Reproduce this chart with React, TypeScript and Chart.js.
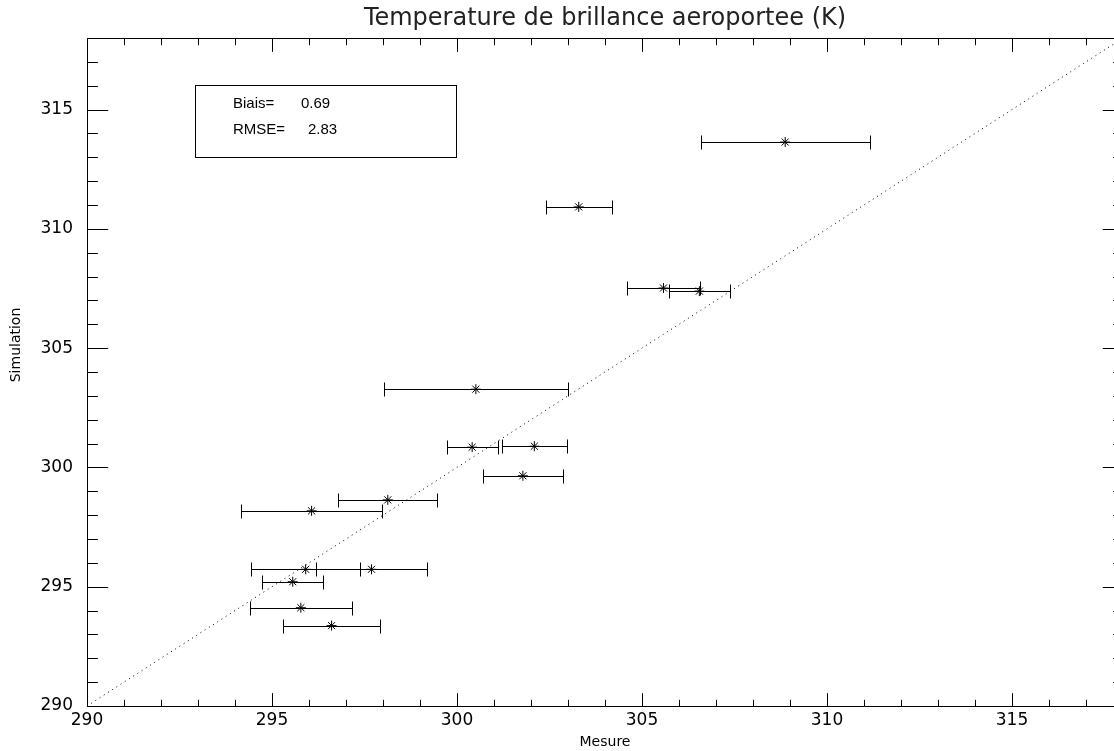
import React, { useEffect, useRef } from 'react';
import { Chart, registerables } from 'chart.js';

Chart.register(...registerables);

// ---- Data ----
const mesure = [308.87, 303.29, 305.58, 306.55, 300.51, 300.41, 302.09, 301.78, 298.13, 296.07, 295.91, 297.69, 295.56, 295.78, 296.61];
const simulation = [313.64, 310.92, 307.52, 307.39, 303.28, 300.85, 300.89, 299.65, 298.64, 298.18, 295.73, 295.73, 295.21, 294.12, 293.37];
const mesureErr = [2.28, 0.89, 0.99, 0.83, 2.49, 0.69, 0.88, 1.08, 1.34, 1.9, 1.48, 1.51, 0.83, 1.38, 1.3];
const diagonal = [290, 318];
const axisMin = 290;
const axisMax = 318;
const xTickLabels = [290, 295, 300, 305, 310, 315];
const yTickLabels = [290, 295, 300, 305, 310, 315];
const statLabels = ['Biais=', 'RMSE='];
const statValues = ['0.69', '2.83'];
const titleText = 'Temperature de brillance aeroportee (K)';
const xTitle = 'Mesure';
const yTitle = 'Simulation';

const W = 1210;
const H = 751;
const FAMILY = '"DejaVu Sans", sans-serif';
const TICK_FONT = { family: FAMILY, size: 17, weight: 'normal' as any };

const errorBarPlugin = {
  id: 'errorBars',
  beforeDatasetsDraw(chart: any) {
    const ctx = chart.ctx;
    const xs = chart.scales.x;
    const ys = chart.scales.y;
    ctx.save();
    ctx.strokeStyle = '#000';
    ctx.lineWidth = 1;
    mesure.forEach((m, i) => {
      const y = Math.round(ys.getPixelForValue(simulation[i])) + 0.5;
      const x0 = Math.round(xs.getPixelForValue(m - mesureErr[i])) + 0.5;
      const x1 = Math.round(xs.getPixelForValue(m + mesureErr[i])) + 0.5;
      ctx.beginPath();
      ctx.moveTo(x0, y);
      ctx.lineTo(x1, y);
      ctx.moveTo(x0, y - 7);
      ctx.lineTo(x0, y + 7);
      ctx.moveTo(x1, y - 7);
      ctx.lineTo(x1, y + 7);
      ctx.stroke();
    });
    ctx.restore();
  },
};

const frameTicksPlugin = {
  id: 'frameTicks',
  afterDraw(chart: any) {
    const ctx = chart.ctx;
    const ca = chart.chartArea;
    const xs = chart.scales.x;
    const ys = chart.scales.y;
    const L = Math.round(ca.left) + 0.5;
    const R = Math.round(ca.right) + 0.5;
    const T = Math.round(ca.top) + 0.5;
    const B = Math.round(ca.bottom) + 0.5;
    const pw = ca.right - ca.left;
    const ph = ca.bottom - ca.top;
    ctx.save();
    ctx.strokeStyle = '#000';
    ctx.lineWidth = 1;
    ctx.beginPath();
    ctx.rect(L, T, R - L, B - T);
    for (let v = Math.ceil(xs.min); v <= Math.floor(xs.max); v++) {
      const px = Math.round(xs.getPixelForValue(v)) + 0.5;
      const len = v % 5 === 0 ? 0.02 * ph : 0.01 * ph;
      ctx.moveTo(px, B);
      ctx.lineTo(px, B - len);
      ctx.moveTo(px, T);
      ctx.lineTo(px, T + len);
    }
    for (let v = Math.ceil(ys.min); v <= Math.floor(ys.max); v++) {
      const py = Math.round(ys.getPixelForValue(v)) + 0.5;
      const len = v % 5 === 0 ? 0.02 * pw : 0.01 * pw;
      ctx.moveTo(L, py);
      ctx.lineTo(L + len, py);
      ctx.moveTo(R, py);
      ctx.lineTo(R - len, py);
    }
    ctx.stroke();

    // statistics box
    const bx = Math.round(ca.left + 108) + 0.5;
    const by = Math.round(ca.top + 47) + 0.5;
    ctx.strokeRect(bx, by, 261, 72);
    ctx.fillStyle = '#000';
    ctx.font = '15px "Liberation Sans", Arial, sans-serif';
    ctx.textBaseline = 'middle';
    ctx.textAlign = 'left';
    statLabels.forEach((lab, i) => {
      const ty = ca.top + 66 + i * 26;
      ctx.fillText(lab, ca.left + 146, ty);
      ctx.fillText(statValues[i], ca.left + 214 + i * 7, ty);
    });

    // y-axis title
    ctx.save();
    ctx.translate(16, ca.top + 307);
    ctx.rotate(-Math.PI / 2);
    ctx.font = '14px ' + FAMILY;
    ctx.textAlign = 'center';
    ctx.textBaseline = 'middle';
    ctx.fillText(yTitle, 0, 0);
    ctx.restore();

    ctx.restore();
  },
};

export default function App() {
  const ref = useRef<HTMLCanvasElement | null>(null);

  useEffect(() => {
    if (!ref.current) return;
    const chart = new Chart(ref.current, {
      type: 'scatter',
      data: {
        datasets: [
          {
            label: 'points',
            data: mesure.map((m, i) => ({ x: m, y: simulation[i] })),
            pointStyle: 'star',
            pointRadius: 5,
            pointBorderWidth: 1,
            borderColor: '#000',
            backgroundColor: '#000',
            showLine: false,
          } as any,
          {
            label: 'diagonal',
            data: diagonal.map((v) => ({ x: v, y: v })),
            showLine: true,
            borderColor: '#000',
            borderWidth: 1,
            borderDash: [1, 4],
            pointRadius: 0,
            fill: false,
          } as any,
        ],
      },
      options: {
        animation: false,
        responsive: false,
        devicePixelRatio: 1,
        layout: { padding: 0 },
        plugins: {
          legend: { display: false },
          tooltip: { enabled: false },
          title: {
            display: true,
            text: titleText,
            color: '#222',
            font: { family: FAMILY, size: 24, weight: 'normal' as any, lineHeight: 1.2 },
            padding: { top: 4.6, bottom: 4.6 },
          },
        },
        scales: {
          x: {
            type: 'linear',
            min: axisMin,
            max: axisMax,
            grid: { display: false, drawTicks: false },
            border: { display: false },
            afterBuildTicks: (s: any) => {
              s.ticks = xTickLabels.map((v) => ({ value: v }));
            },
            afterFit: (s: any) => {
              s.height = 45;
            },
            ticks: {
              color: '#000',
              font: TICK_FONT,
              padding: 4,
              maxRotation: 0,
              autoSkip: false,
            },
            title: {
              display: true,
              text: xTitle,
              color: '#000',
              font: { family: FAMILY, size: 14, weight: 'normal' as any, lineHeight: 1.2 },
              padding: { top: 0, bottom: 0 },
            },
          },
          y: {
            type: 'linear',
            min: axisMin,
            max: axisMax,
            grid: { display: false, drawTicks: false },
            border: { display: false },
            afterBuildTicks: (s: any) => {
              s.ticks = yTickLabels.map((v) => ({ value: v }));
            },
            afterFit: (s: any) => {
              s.width = 87;
            },
            ticks: {
              color: '#000',
              font: TICK_FONT,
              padding: 14,
              autoSkip: false,
            },
            title: { display: false },
          },
          yRight: {
            type: 'linear',
            position: 'right',
            min: axisMin,
            max: axisMax,
            grid: { display: false, drawTicks: false },
            border: { display: false },
            ticks: { display: false },
            afterFit: (s: any) => {
              s.width = 87;
            },
          },
        },
      } as any,
      plugins: [errorBarPlugin, frameTicksPlugin],
    });
    return () => chart.destroy();
  }, []);

  return (
    <div style={{ position: 'fixed', left: 0, top: 0, width: 1114, height: 751, overflow: 'hidden', background: '#fff' }}>
      <canvas ref={ref} width={W} height={H} style={{ display: 'block', width: W, height: H }} />
    </div>
  );
}
